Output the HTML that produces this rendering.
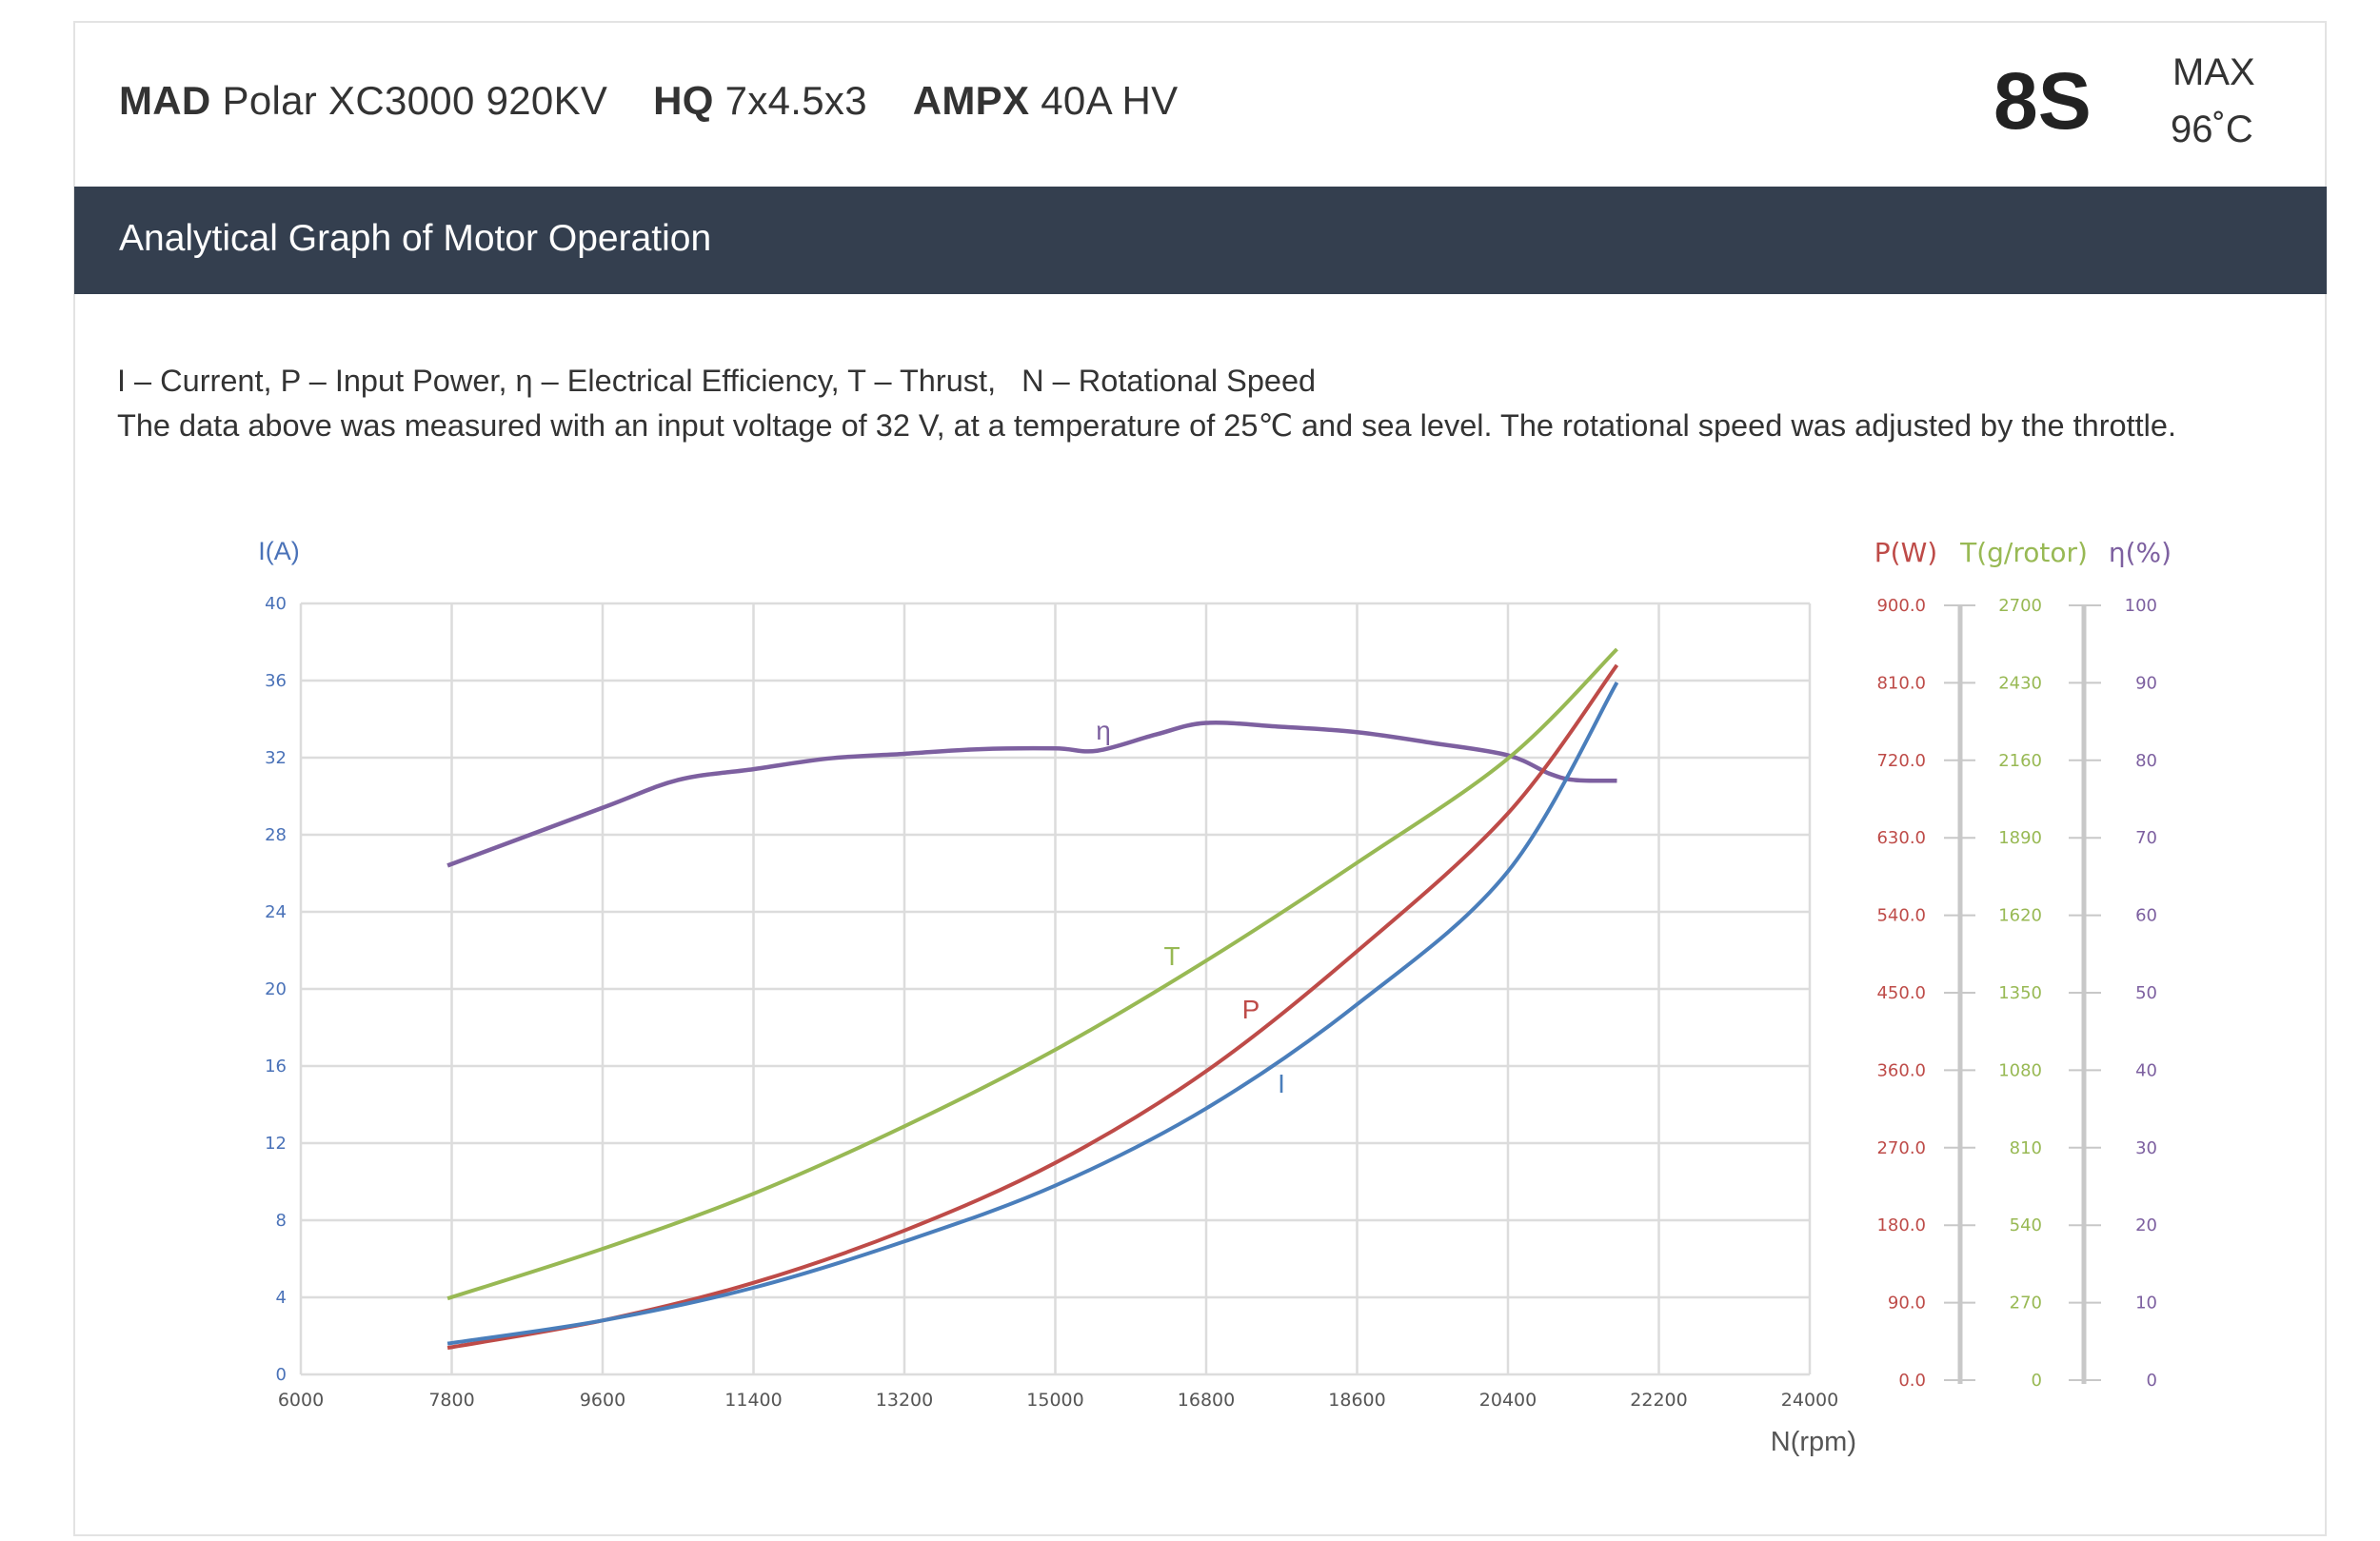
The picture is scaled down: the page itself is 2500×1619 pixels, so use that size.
<!DOCTYPE html>
<html><head><meta charset="utf-8"><style>
html,body{margin:0;padding:0;background:#fff;width:2500px;height:1619px;overflow:hidden}
body{position:relative;font-family:"Liberation Sans",sans-serif}
.card{position:absolute;left:77px;top:22px;width:2367px;height:1592px;border:2px solid #e3e3e3;box-sizing:border-box}
.abs{position:absolute;white-space:nowrap}
</style></head><body>
<div class="card"></div>
<div class="abs" style="left:125px;top:82px;font-size:42px;color:#333;letter-spacing:0.3px"><b>MAD</b> Polar XC3000 920KV&nbsp;&nbsp;&nbsp;&nbsp;<b>HQ</b> 7x4.5x3&nbsp;&nbsp;&nbsp;&nbsp;<b>AMPX</b> 40A HV</div>
<div class="abs" style="left:2094px;top:58px;font-size:84px;color:#222;font-weight:bold">8S</div>
<div class="abs" style="left:2282px;top:54px;font-size:40px;color:#333">MAX</div>
<div class="abs" style="left:2280px;top:114px;font-size:40px;color:#333">96˚C</div>
<div class="abs" style="left:78px;top:196px;width:2366px;height:113px;background:#343f4f"></div>
<div class="abs" style="left:125px;top:229px;font-size:39px;color:#fff">Analytical Graph of Motor Operation</div>
<div class="abs" style="left:123px;top:382px;font-size:32.5px;color:#333">I – Current, P – Input Power, η – Electrical Efficiency, T – Thrust,&nbsp;&nbsp; N – Rotational Speed</div>
<div class="abs" style="left:123px;top:428px;font-size:32.5px;color:#333">The data above was measured with an input voltage of 32 V, at a temperature of 25℃ and sea level. The rotational speed was adjusted by the throttle.</div>
<svg class="abs" style="left:0;top:0" width="2500" height="1619" id="chart"></svg>
<script>
const rpm = [7750, 9600, 11400, 13200, 15000, 16800, 18600, 20400, 21700];
const currentA = [1.6, 2.8, 4.5, 6.9, 9.8, 13.8, 19.2, 26.1, 35.9];
const powerW = [31, 63, 107, 168, 247, 354, 494, 655, 828];
const thrustG = [266, 440, 633, 869, 1137, 1449, 1792, 2157, 2540];
const effRpm = [7750, 9600, 10500, 11400, 12300, 13200, 14100, 15000, 15500, 16200, 16800, 17700, 18600, 19500, 20400, 20900, 21200, 21700];
const effPct = [66.0, 73.5, 77.1, 78.5, 79.9, 80.5, 81.1, 81.2, 80.9, 83.0, 84.5, 84.0, 83.3, 81.9, 80.3, 77.9, 77.1, 77.0];
const xTicks = [6000, 7800, 9600, 11400, 13200, 15000, 16800, 18600, 20400, 22200, 24000];
const iTicks = [0, 4, 8, 12, 16, 20, 24, 28, 32, 36, 40];
const pTicks = ["0.0","90.0","180.0","270.0","360.0","450.0","540.0","630.0","720.0","810.0","900.0"];
const tTicks = ["0","270","540","810","1080","1350","1620","1890","2160","2430","2700"];
const eTicks = ["0","10","20","30","40","50","60","70","80","90","100"];

const svg = document.getElementById('chart');
const NS = 'http://www.w3.org/2000/svg';
const L=316,R=1901,T=634,B=1444;
const xS = n => L + (n-6000)/18000*(R-L);
const yI = v => B - v/40*(B-T);
const yP = v => B - v/900*(B-T);
const yT = v => B - v/2700*(B-T);
const yE = v => B - v/100*(B-T);
const RT=636, RB=1450;
const yR = i => RB - i*(RB-RT)/10;
function mk(tag, attrs){const e=document.createElementNS(NS,tag);for(const k in attrs)e.setAttribute(k,attrs[k]);svg.appendChild(e);return e;}
function txt(x,y,s,fill,size,anchor,fam){const e=mk('text',{x:x,y:y,fill:fill,'font-size':size,'text-anchor':anchor||'start','font-family':fam||'"DejaVu Sans",sans-serif'});e.textContent=s;return e;}
function smooth(pts){let d='M'+pts[0][0]+','+pts[0][1];for(let i=0;i<pts.length-1;i++){const p0=pts[i-1]||pts[i],p1=pts[i],p2=pts[i+1],p3=pts[i+2]||p2;const c1x=p1[0]+(p2[0]-p0[0])/6,c1y=p1[1]+(p2[1]-p0[1])/6,c2x=p2[0]-(p3[0]-p1[0])/6,c2y=p2[1]-(p3[1]-p1[1])/6;d+=' C'+c1x+','+c1y+' '+c2x+','+c2y+' '+p2[0]+','+p2[1];}return d;}

iTicks.forEach(v=>{
  const g=mk('line',{x1:L,x2:R,y1:yI(v),y2:yI(v),stroke:'#dcdcdc','stroke-width':2.5});
  
  
  const t=txt(301,yI(v)+6,String(v),'#4a72b8',18,'end');
  
  
});
xTicks.forEach(v=>{
  const g=mk('line',{x1:xS(v),x2:xS(v),y1:T,y2:B,stroke:'#dcdcdc','stroke-width':2.5});
  
  
  const t=txt(xS(v),1477,String(v),'#555',19,'middle');
  
  
});
let e;
e=txt(293,588,'I(A)','#4a72b8',27,'middle','"Liberation Sans",sans-serif');


e=txt(1950,1524,'N(rpm)','#555',29,'end','"Liberation Sans",sans-serif');


e=txt(2002,590,'P(W)','#be4b48',28,'middle');


e=txt(2126,590,'T(g/rotor)','#98b954',28,'middle');


e=txt(2248,590,'η(%)','#7d60a0',28,'middle');


[[2059,2042,2075],[2189,2173,2207]].forEach(a=>{
  const l=mk('line',{x1:a[0],x2:a[0],y1:RT,y2:RB+4,stroke:'#c8c8c8','stroke-width':5});
  
  
  for(let i=0;i<=10;i++){
    const tk=mk('line',{x1:a[1],x2:a[2],y1:yR(i),y2:yR(i),stroke:'#c8c8c8','stroke-width':2});
    
    
  }
});
for(let i=0;i<=10;i++){
  let t=txt(2023,yR(i)+6,pTicks[i],'#be4b48',18,'end');
  
  
  t=txt(2145,yR(i)+6,tTicks[i],'#98b954',18,'end');
  
  
  t=txt(2266,yR(i)+6,eTicks[i],'#7d60a0',18,'end');
  
  
}
let p;
p=mk('path',{d:smooth(effRpm.map((n,i)=>[xS(n),yE(effPct[i])])),fill:'none',stroke:'#7d60a0','stroke-width':4.5});


p=mk('path',{d:smooth(rpm.map((n,i)=>[xS(n),yT(thrustG[i])])),fill:'none',stroke:'#98b954','stroke-width':4});


p=mk('path',{d:smooth(rpm.map((n,i)=>[xS(n),yP(powerW[i])])),fill:'none',stroke:'#be4b48','stroke-width':4});


p=mk('path',{d:smooth(rpm.map((n,i)=>[xS(n),yI(currentA[i])])),fill:'none',stroke:'#4a7ebb','stroke-width':4});


e=txt(1159,777,'η','#7d60a0',28,'middle','"Liberation Sans",sans-serif');


e=txt(1231,1014,'T','#98b954',28,'middle','"Liberation Sans",sans-serif');


e=txt(1314,1070,'P','#be4b48',28,'middle','"Liberation Sans",sans-serif');


e=txt(1346,1148,'I','#4a7ebb',28,'middle','"Liberation Sans",sans-serif');


</script>
</body></html>
